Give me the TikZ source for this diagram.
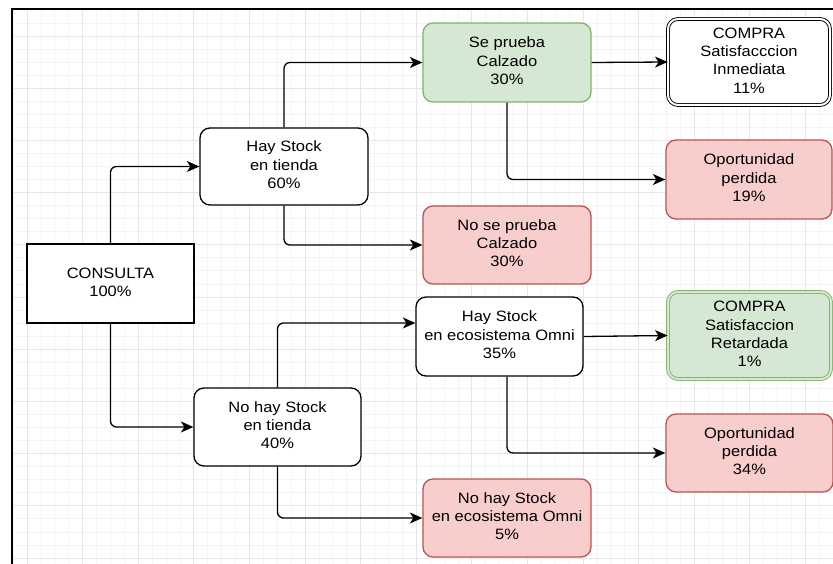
\documentclass[tikz,border=0pt]{standalone}
\usepackage{fontspec}
\setmainfont{Liberation Sans}
\usepackage{graphicx}
\usetikzlibrary{arrows.meta}
\definecolor{gfill}{HTML}{D5E8D4}
\definecolor{gline}{HTML}{82B366}
\definecolor{rfill}{HTML}{F8CECC}
\definecolor{rline}{HTML}{B85450}
\definecolor{gridminor}{HTML}{F4F4F4}
\definecolor{gridmajor}{HTML}{E6E6E6}
\newcommand{\lbl}[1]{\scalebox{1.1}[1]{\begin{tabular}{@{}c@{}}#1\end{tabular}}}
\begin{document}
\begin{tikzpicture}[x=1pt,y=-1pt,
  box/.style={draw=black, line width=1.3pt, fill=white, rounded corners=10pt, inner sep=0pt,
    align=center, font=\fontsize{15}{18.3}\selectfont, text=black},
  sqbox/.style={box, rounded corners=0pt},
  gbox/.style={box, draw=gline, fill=gfill},
  rbox/.style={box, draw=rline, fill=rfill},
  dbl/.style={double=#1, double distance=2pt, line width=0.9pt},
  conn/.style={draw=black, line width=1.3pt, rounded corners=6pt,
    -{Stealth[length=12.5pt,width=11pt,inset=3.5pt]}},
  gminor/.style={draw=gridminor, line width=0.8pt},
  gmajor/.style={draw=gridmajor, line width=0.9pt}]
\useasboundingbox (0,0) rectangle (833,564);
\fill[white] (0,0) rectangle (833,564);
% grid
\begin{scope}
\clip (12,9) rectangle (833,564);
\foreach \i in {-1,...,58} {\draw[gminor] ({27+13.9*\i},9) -- ({27+13.9*\i},564);}
\foreach \j in {-2,...,40} {\draw[gminor] (12,{36+13.05*\j}) -- (833,{36+13.05*\j});}
\foreach \i in {0,...,14} {\draw[gmajor] ({27+55.6*\i},9) -- ({27+55.6*\i},564);}
\foreach \j in {0,...,10} {\draw[gmajor] (12,{36+52.2*\j}) -- (833,{36+52.2*\j});}
\end{scope}
% frame
\draw[line width=2pt, black] (11,9.5) -- (833,9.5);
\draw[line width=2.5pt, black] (12,9) -- (12,564);
% nodes
\node[sqbox, minimum width=167pt, minimum height=79pt] (consulta) at (110.5,283.5) {\lbl{CONSULTA\\100\%}};
\node[box, minimum width=168pt, minimum height=77pt] (hst) at (284,166.5) {\lbl{Hay Stock\\en tienda\\60\%}};
\node[gbox, minimum width=168pt, minimum height=79pt] (sep) at (507,62.5) {\lbl{Se prueba\\Calzado\\30\%}};
\node[box, dbl=white, minimum width=162pt, minimum height=86pt] (cin) at (749,62) {\lbl{COMPRA\\Satisfacccion\\Inmediata\\11\%}};
\node[rbox, minimum width=166pt, minimum height=79pt] (op19) at (749,179.5) {\lbl{Oportunidad\\perdida\\19\%}};
\node[rbox, minimum width=168pt, minimum height=78pt] (nsp) at (507,245) {\lbl{No se prueba\\Calzado\\30\%}};
\node[box, minimum width=167pt, minimum height=78pt] (nht) at (277.5,427) {\lbl{No hay Stock\\en tienda\\40\%}};
\node[box, minimum width=167pt, minimum height=79pt] (hso) at (499.5,336.5) {\lbl{Hay Stock\\en ecosistema Omni\\35\%}};
\node[gbox, dbl=gfill, minimum width=163pt, minimum height=87pt] (cre) at (749.5,335.5) {\lbl{COMPRA\\Satisfaccion\\Retardada\\1\%}};
\node[rbox, minimum width=167pt, minimum height=78pt] (op34) at (749.5,453) {\lbl{Oportunidad\\perdida\\34\%}};
\node[rbox, minimum width=168pt, minimum height=78pt] (nho) at (507,518) {\lbl{No hay Stock\\en ecosistema Omni\\5\%}};
% connectors
\draw[conn] (consulta.north) |- (hst.west);
\draw[conn] (consulta.south) |- (nht.west);
\draw[conn] (hst.north) |- (sep.west);
\draw[conn] (hst.south) |- (nsp.west);
\draw[conn] (sep.east) -- (cin.west);
\draw[conn] (sep.south) |- (op19.west);
\draw[conn] (nht.north) |- ([yshift=13.5pt]hso.west);
\draw[conn] (nht.south) |- (nho.west);
\draw[conn] (hso.east) -- (cre.west);
\draw[conn] ([xshift=7.5pt]hso.south) |- (op34.west);
\end{tikzpicture}
\end{document}
